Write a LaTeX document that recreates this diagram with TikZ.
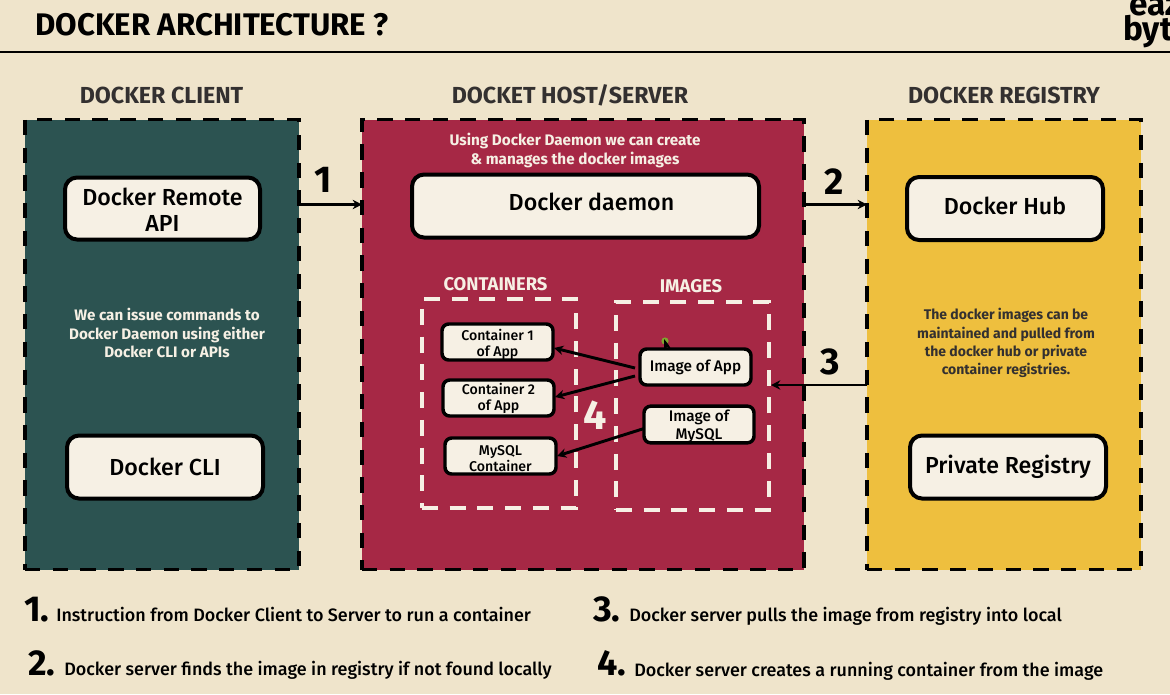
\documentclass[tikz,border=0pt]{standalone}
\usepackage{fontspec}
\setmainfont{Fira Sans}
\newfontfamily\med{Fira Sans Medium}
\usetikzlibrary{arrows.meta}
\definecolor{bgc}{HTML}{EFE4CB}
\definecolor{tealc}{HTML}{2C5351}
\definecolor{redc}{HTML}{A62845}
\definecolor{yelc}{HTML}{EEBF3E}
\definecolor{boxc}{HTML}{F6F0E4}
\definecolor{headc}{HTML}{333030}
\definecolor{dotc}{HTML}{7FA52E}
\newcommand{\fpx}[2]{\fontsize{#1pt}{#2pt}\selectfont}
\newcommand{\tall}[1]{\rule{0pt}{#1pt}}
\tikzset{
  wh/.style 2 args={minimum width=#1*0.75pt,minimum height=#2*0.75pt,inner sep=0pt,outer sep=0pt},
  panel/.style={draw=black,line width=2.8pt,dash pattern=on 11.5pt off 9.3pt},
  wbox/.style={draw=boxc,line width=3pt,dash pattern=on 12pt off 8.8pt},
  card/.style={draw=black,fill=boxc,line width=3pt,rounded corners=9pt,align=center,text=black,font=\med\fpx{17.4}{19.5}},
  small/.style={draw=black,fill=boxc,line width=2.6pt,rounded corners=5pt,align=center,text=black,font=\med\fpx{10.6}{12}},
  head/.style={text=headc,font=\fpx{17.4}{18}\bfseries,inner sep=0pt},
  sub/.style={text=boxc,font=\fpx{13.8}{15}\bfseries,inner sep=0pt},
  note/.style={align=center,inner sep=0pt,font=\fpx{11.4}{14.2}\bfseries},
  num/.style={font=\fpx{28}{28}\bfseries,inner sep=0pt,text=black},
  big/.style={font=\fpx{27}{27}\bfseries,inner sep=0pt,text=black,anchor=base west},
  item/.style={font=\med\fpx{13.45}{15},inner sep=0pt,text=black,anchor=base west},
  arr/.style={draw=black,line width=2.1pt,-{Stealth[length=7pt,width=7pt]}},
  arrs/.style={draw=black,line width=2.2pt,-{Stealth[length=7pt,width=7pt]}},
}
\begin{document}
\begin{tikzpicture}[x=0.75pt,y=-0.75pt]
\useasboundingbox (0,0) rectangle (1170,694);
\clip (0,0) rectangle (1170,694);
\fill[bgc] (0,0) rectangle (1170,694);
% header
\node[anchor=base west,inner sep=0pt,text=black,font=\fpx{23.4}{25}\bfseries] (title) at (35,35) {DOCKER ARCHITECTURE ?};
\coordinate (ruleL) at (0,52);
\coordinate (ruleR) at (1170,52);
\draw[line width=2pt,black] (ruleL) -- (ruleR);
\node[anchor=base west,inner sep=0pt,text=black,font=\fpx{25}{25}\bfseries] (logoA) at (1129,15) {eaz};
\node[anchor=base west,inner sep=0pt,text=black,font=\fpx{25}{25}\bfseries] (logoB) at (1123,40) {byt};
% headings
\node[head] (hclient) at (161.5,95) {DOCKER CLIENT};
\node[head] (hhost) at (570,95) {DOCKET HOST/SERVER};
\node[head] (hreg) at (1004,95) {DOCKER REGISTRY};
% panels
\node[panel,fill=tealc,wh={274}{450}] (client) at (162,344.5) {};
\node[panel,fill=redc,wh={442}{450}] (host) at (583,344.5) {};
\node[panel,fill=yelc,wh={274}{450}] (registry) at (1004,344.5) {};
% client
\node[card,wh={195}{62}] (remote) at (162.5,208.5) {\tall{14.5}Docker Remote\\API};
\node[card,wh={196}{63}] (cli) at (165,467) {\raisebox{0.7pt}{Docker CLI}};
\node[note,text=boxc] (nclient) at (167,333) {We can issue commands to\\Docker Daemon using either\\Docker CLI or APIs};
% host
\node[sub,font=\fpx{11.45}{14}\bfseries,align=center] (nhost) at (575,150.5) {Using Docker Daemon we can create\\\& manages the docker images};
\node[card,wh={347}{63}] (daemon) at (585.5,206) {\kern9pt\raisebox{6.5pt}{Docker daemon}};
\node[sub] (hcont) at (495.5,284) {CONTAINERS};
\node[sub] (himg) at (691,286) {IMAGES};
\node[wbox,wh={154}{209}] (contbox) at (499,403.5) {};
\node[wbox,wh={153}{208}] (imgbox) at (692.5,406) {};
\node[small,wh={111}{36}] (c1) at (497.5,342) {\tall{12}Container 1\\of App};
\node[small,wh={111}{36}] (c2) at (498.5,398) {\tall{9}Container 2\\of App};
\node[small,wh={111}{36}] (c3) at (500.5,456) {\tall{11.5}MySQL\\Container};
\node[small,wh={111}{36},font=\med\fpx{11.5}{13.5}] (i1) at (695.5,367) {Image of App};
\node[small,wh={110}{35},font=\med\fpx{11.5}{13.5}] (i2) at (699,424.5) {\tall{11.5}Image of\\MySQL};
\node[num,text=boxc,font=\fpx{31}{31}\bfseries] (n4) at (595.5,415) {4};
% registry
\node[card,wh={196}{63}] (hub) at (1005,208.5) {\raisebox{3.6pt}{Docker Hub}};
\node[card,wh={196}{63}] (priv) at (1008,467) {Private Registry};
\node[note,text=headc,font=\fpx{10.5}{13.6}\bfseries] (nreg) at (1006,343) {The docker images can be\\maintained and pulled from\\the docker hub or private\\container registries.};
% connectors
\node[num] (n1) at (323,180) {1};
\node[num] (n2) at (834,182) {2};
\node[num] (n3) at (830,362) {3};
\draw[arr] ([yshift=140*0.75pt]client.east) -- ([yshift=140*0.75pt]host.west);
\draw[arr] ([yshift=140*0.75pt]host.east) -- ([yshift=140*0.75pt]registry.west);
\draw[arr] ([yshift=-40.5*0.75pt]registry.west) -- ([xshift=2*0.75pt,yshift=21*0.75pt]imgbox.east);
\draw[arrs] ([xshift=-5*0.75pt,yshift=-1*0.75pt]i1.west) -- ([xshift=1*0.75pt,yshift=-6*0.75pt]c1.east);
\draw[arrs] ([xshift=-5*0.75pt,yshift=-9*0.75pt]i1.west) -- ([xshift=1*0.75pt,yshift=1*0.75pt]c2.east);
\draw[arrs] ([yshift=-4*0.75pt]i2.west) -- ([xshift=1*0.75pt]c3.east);
% pointer
\fill[dotc] (665,341) circle (3.6);
\fill[black] (664,339) -- (664,350) -- (667,347) -- (671,349) -- (668,344) -- cycle;
% legend
\node[big] (b1) at (24,621) {1.};
\node[item] (t1) at (56,621) {Instruction from Docker Client to Server to run a container};
\node[big] (b2) at (28,675) {2.};
\node[item] (t2) at (64,675) {Docker server finds the image in registry if not found locally};
\node[big] (b3) at (593,621) {3.};
\node[item] (t3) at (629,621) {Docker server pulls the image from registry into local};
\node[big] (b4) at (597,675) {4.};
\node[item] (t4) at (634,676) {Docker server creates a running container from the image};
\end{tikzpicture}
\end{document}
